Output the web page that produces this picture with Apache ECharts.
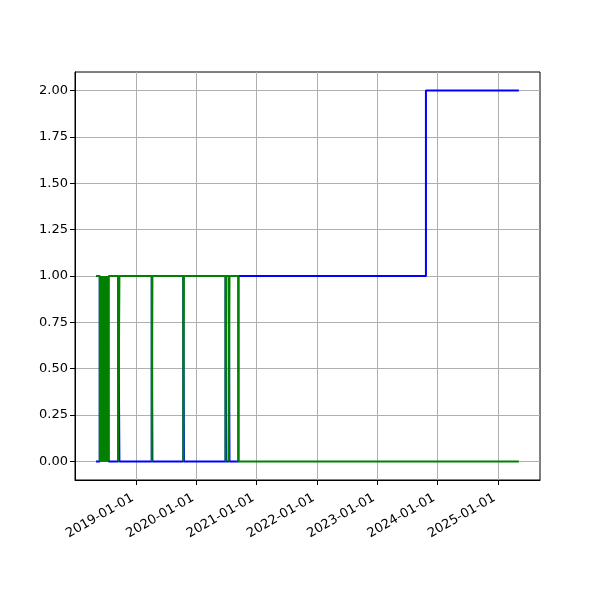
<!DOCTYPE html>
<html>
<head>
<meta charset="utf-8">
<script src="https://cdn.jsdelivr.net/npm/echarts@6/dist/echarts.min.js"></script>
<style>html,body{margin:0;padding:0;background:#fff}#c{width:600px;height:600px}</style>
</head>
<body>
<div id="c"></div>
<script>
// Green series: change points (step, value holds until next point)
var greenDates = ['2018-05-03','2018-05-26','2018-05-28','2018-05-30','2018-06-01','2018-06-03','2018-06-05','2018-06-07','2018-06-09','2018-06-11','2018-06-13','2018-06-15','2018-06-17','2018-06-19','2018-06-21','2018-06-23','2018-06-25','2018-06-27','2018-06-29','2018-07-01','2018-07-03','2018-07-05','2018-07-07','2018-07-09','2018-07-11','2018-07-13','2018-07-15','2018-07-17','2018-07-19','2018-09-15','2018-09-22','2019-04-06','2019-04-10','2019-10-14','2019-10-18','2020-06-26','2020-06-30','2020-07-16','2020-07-20','2020-09-12','2025-05-08'];
var greenValues = [1,0,1,0,1,0,1,0,1,0,1,0,1,0,1,0,1,0,1,0,1,0,1,0,1,0,1,0,1,0,1,0,1,0,1,0,1,0,1,0,0];
// Blue series: change points
var blueDates = ['2018-05-03','2018-05-26','2018-05-28','2018-05-30','2018-06-01','2018-06-03','2018-06-05','2018-06-07','2018-06-09','2018-06-11','2018-06-13','2018-06-15','2018-06-17','2018-06-19','2018-06-21','2018-06-23','2018-06-25','2018-06-27','2018-06-29','2018-07-01','2018-07-03','2018-07-05','2018-07-07','2018-07-09','2018-07-11','2018-07-13','2018-07-15','2018-07-17','2018-07-19','2018-09-15','2018-09-22','2019-04-06','2019-04-10','2019-10-14','2019-10-18','2020-06-26','2020-06-30','2020-07-16','2020-07-20','2020-09-12','2023-10-23','2025-05-08'];
var blueValues = [0,1,0,1,0,1,0,1,0,1,0,1,0,1,0,1,0,1,0,1,0,1,0,1,0,1,0,1,0,1,0,1,0,1,0,1,0,1,0,1,2,2];
// Tick labels
var xTickLabels = ['2019-01-01','2020-01-01','2021-01-01','2022-01-01','2023-01-01','2024-01-01','2025-01-01'];
var yTickValues = [0,0.25,0.5,0.75,1.0,1.25,1.5,1.75,2.0];
var xRange = ['2017-12-27','2025-09-13'];

function ts(s){ return new Date(s + 'T00:00:00Z').getTime(); }
function pairs(d, v){ return d.map(function(x,i){ return [ts(x), v[i]]; }); }
var xTickTs = xTickLabels.map(ts);
function pad(n){ return (n<10?'0':'')+n; }

var chart = echarts.init(document.getElementById('c'), null, {renderer:'canvas'});
chart.setOption({
  animation: false,
  backgroundColor: '#ffffff',
  grid: {left:75, right:60, top:72, bottom:120, show:true, borderColor:'#000', borderWidth:1, backgroundColor:'transparent'},
  xAxis: {
    type: 'value',
    min: ts(xRange[0]),
    max: ts(xRange[1]),
    axisLine: {show:true, onZero:false, lineStyle:{color:'#000', width:1}},
    axisTick: {show:true, customValues: xTickTs, length:5, lineStyle:{color:'#000'}},
    axisLabel: {
      customValues: xTickTs,
      rotate: 30,
      margin: 15,
      padding: [0, 4, 0, 0],
      color: '#000',
      fontFamily: 'DejaVu Sans',
      fontSize: 13,
      formatter: function(val){ var d = new Date(val); return d.getUTCFullYear()+'-'+pad(d.getUTCMonth()+1)+'-'+pad(d.getUTCDate()); }
    },
    splitLine: {show:true, lineStyle:{color:'#b0b0b0', width:1}}
  },
  yAxis: {
    type: 'value',
    min: -0.1,
    max: 2.1,
    axisLine: {show:true, lineStyle:{color:'#000', width:1}},
    axisTick: {show:true, customValues: yTickValues, length:5, lineStyle:{color:'#000'}},
    axisLabel: {
      customValues: yTickValues,
      margin: 7,
      color: '#000',
      fontFamily: 'DejaVu Sans',
      fontSize: 13,
      formatter: function(v){ return v.toFixed(2); }
    },
    splitLine: {show:true, lineStyle:{color:'#b0b0b0', width:1}}
  },
  series: [
    {type:'line', step:'end', data: pairs(blueDates, blueValues), showSymbol:false, lineStyle:{color:'#0000ff', width:2}, itemStyle:{color:'#0000ff'}, z:2},
    {type:'line', step:'end', data: pairs(greenDates, greenValues), showSymbol:false, lineStyle:{color:'#008000', width:2}, itemStyle:{color:'#008000'}, z:3}
  ]
});
</script>
</body>
</html>
